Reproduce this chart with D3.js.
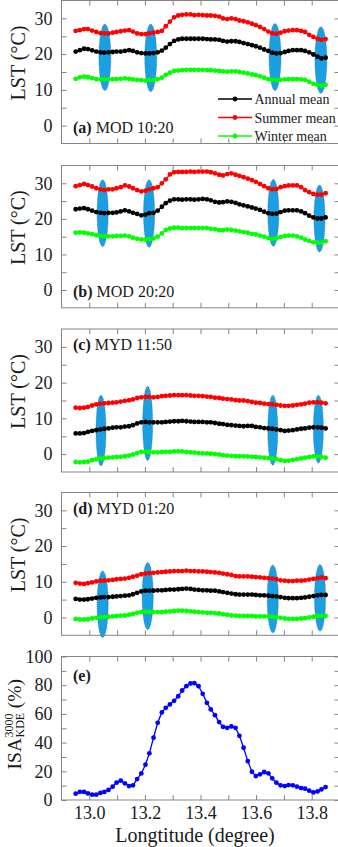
<!DOCTYPE html>
<html>
<head>
<meta charset="utf-8">
<script src="https://cdn.jsdelivr.net/npm/d3@7"></script>
<style>
  body { margin: 0; background: #fff; }
  svg, svg text { font-family: "Liberation Serif", "Times New Roman", serif; }
  svg { display: block; }
</style>
</head>
<body>
<div id="chart"></div>
<script>
// Longitude of each sample point (degree).
const lon = [
  12.951, 12.966, 12.981, 12.995, 13.010, 13.025, 13.040, 13.054, 13.069, 13.084,
  13.098, 13.113, 13.128, 13.143, 13.157, 13.172, 13.187, 13.202, 13.216, 13.231,
  13.246, 13.261, 13.275, 13.290, 13.305, 13.320, 13.334, 13.349, 13.364, 13.378,
  13.393, 13.408, 13.423, 13.437, 13.452, 13.467, 13.481, 13.496, 13.511, 13.526,
  13.540, 13.555, 13.570, 13.585, 13.599, 13.614, 13.629, 13.644, 13.658, 13.673,
  13.688, 13.703, 13.717, 13.732, 13.747, 13.762, 13.776, 13.791, 13.806, 13.821,
  13.835, 13.850
];

// (a) MOD 10:20
const annualA = [
  20.7, 21.1, 21.5, 21.4, 21.05, 20.7, 20.5, 20.4, 20.5, 20.6,
  20.7, 20.7, 20.9, 21.1, 20.9, 20.5, 20.3, 20.2, 20.2, 20.3,
  20.5, 21.0, 21.8, 22.8, 23.7, 24.1, 24.3, 24.3, 24.3, 24.3,
  24.3, 24.3, 24.2, 24.1, 24.1, 24.0, 23.7, 23.5, 23.6, 23.6,
  23.4, 23.1, 22.8, 22.5, 22.2, 21.8, 21.3, 20.9, 20.4, 20.2,
  20.3, 20.6, 20.9, 21.1, 21.1, 21.1, 20.9, 20.5, 19.9, 19.3,
  18.8, 19.0
];
const summerA = [
  26.5, 26.7, 27.0, 27.0, 26.6, 26.2, 25.9, 25.8, 25.8, 26.0,
  26.2, 26.4, 26.6, 26.7, 26.3, 25.8, 25.6, 25.6, 25.8, 26.0,
  26.2, 26.5, 27.8, 29.1, 30.3, 30.8, 31.0, 31.1, 31.1, 30.9,
  31.0, 30.9, 30.8, 30.8, 30.7, 30.5, 30.0, 29.8, 30.0, 29.8,
  29.4, 29.2, 28.9, 28.5, 28.1, 27.6, 27.0, 26.3, 25.8, 25.7,
  26.0, 26.4, 26.6, 26.7, 26.7, 26.5, 26.2, 25.4, 24.8, 24.3,
  24.0, 24.2
];
const winterA = [
  13.1, 13.5, 13.7, 13.6, 13.3, 13.0, 12.95, 12.95, 12.95, 13.0,
  13.0, 13.1, 13.2, 13.1, 12.95, 12.8, 12.7, 12.6, 12.7, 12.8,
  13.0, 13.4, 14.2, 14.8, 15.3, 15.4, 15.5, 15.6, 15.6, 15.6,
  15.6, 15.6, 15.5, 15.5, 15.4, 15.3, 15.2, 15.1, 15.2, 15.2,
  15.0, 14.8, 14.6, 14.3, 14.1, 13.8, 13.4, 13.0, 12.8, 12.7,
  12.8, 12.95, 13.0, 13.0, 13.0, 12.95, 12.8, 12.3, 11.7, 11.4,
  11.2, 11.4
];

// (b) MOD 20:20
const annualB = [
  22.7, 22.9, 23.0, 22.7, 22.3, 21.9, 21.7, 21.6, 21.7, 21.7,
  21.8, 22.1, 22.4, 22.1, 21.7, 21.4, 21.0, 21.2, 21.6, 21.7,
  22.3, 23.4, 24.4, 25.1, 25.5, 25.5, 25.4, 25.5, 25.5, 25.4,
  25.5, 25.6, 25.5, 25.2, 24.8, 24.6, 24.7, 24.9, 24.8, 24.5,
  24.1, 23.8, 23.5, 23.2, 22.9, 22.5, 22.0, 21.6, 21.4, 21.5,
  21.9, 22.3, 22.4, 22.4, 22.4, 22.1, 21.6, 20.9, 20.4, 20.1,
  20.1, 20.4
];
const summerB = [
  29.2, 29.5, 29.8, 29.5, 29.1, 28.6, 28.3, 28.1, 28.3, 28.3,
  28.6, 28.9, 29.4, 29.1, 28.6, 28.1, 27.7, 27.9, 28.3, 28.6,
  28.9, 30.0, 31.1, 32.5, 33.1, 33.2, 33.2, 33.2, 33.3, 33.2,
  33.3, 33.3, 33.3, 33.1, 32.8, 32.4, 32.2, 32.6, 32.8, 32.4,
  32.1, 31.7, 31.3, 30.9, 30.4, 29.8, 29.2, 28.6, 28.3, 28.4,
  28.9, 29.2, 29.4, 29.4, 29.4, 28.9, 28.1, 27.5, 27.0, 26.8,
  26.8, 27.2
];
const winterB = [
  16.1, 16.2, 16.1, 15.9, 15.7, 15.4, 15.2, 15.1, 15.1, 15.1,
  15.2, 15.2, 15.3, 15.1, 14.7, 14.4, 14.2, 14.2, 14.3, 14.5,
  15.0, 15.9, 16.9, 17.3, 17.5, 17.5, 17.4, 17.4, 17.4, 17.4,
  17.4, 17.4, 17.4, 17.2, 17.1, 16.8, 16.8, 17.0, 16.9, 16.7,
  16.5, 16.3, 16.1, 15.8, 15.6, 15.3, 15.0, 14.6, 14.4, 14.5,
  14.9, 15.2, 15.3, 15.3, 15.1, 14.7, 14.2, 13.8, 13.4, 13.3,
  13.3, 13.7
];

// (c) MYD 11:50
const annualC = [
  5.8, 5.8, 5.9, 6.2, 6.5, 6.7, 6.9, 7.1, 7.2, 7.4,
  7.5, 7.5, 7.7, 7.8, 8.1, 8.6, 8.9, 9.0, 8.9, 8.9,
  8.9, 8.9, 9.0, 9.1, 9.2, 9.2, 9.3, 9.2, 9.1, 9.0,
  9.0, 9.0, 8.9, 8.9, 8.7, 8.5, 8.4, 8.2, 8.1, 8.0,
  7.9, 7.8, 7.9, 7.9, 7.6, 7.5, 7.3, 7.2, 7.1, 6.9,
  6.7, 6.5, 6.6, 6.7, 6.9, 7.1, 7.2, 7.4, 7.5, 7.5,
  7.4, 7.2
];
const summerC = [
  13.0, 12.9, 13.0, 13.2, 13.6, 13.9, 14.1, 14.2, 14.3, 14.4,
  14.5, 14.7, 14.9, 15.1, 15.3, 15.7, 15.9, 16.0, 16.0, 15.9,
  16.0, 16.2, 16.3, 16.4, 16.5, 16.5, 16.5, 16.5, 16.4, 16.3,
  16.3, 16.2, 16.1, 16.0, 15.8, 15.7, 15.5, 15.4, 15.3, 15.1,
  15.0, 15.0, 14.8, 14.6, 14.4, 14.3, 14.1, 14.0, 13.9, 13.8,
  13.6, 13.5, 13.5, 13.6, 13.8, 13.9, 14.1, 14.4, 14.5, 14.5,
  14.4, 14.2
];
const winterC = [
  -2.2, -2.3, -2.2, -2.1, -1.7, -1.4, -1.2, -1.1, -1.0, -0.9,
  -0.8, -0.75, -0.6, -0.4, -0.1, 0.3, 0.6, 0.65, 0.6, 0.5,
  0.5, 0.6, 0.65, 0.65, 0.75, 0.75, 0.75, 0.6, 0.5, 0.4,
  0.3, 0.2, 0.2, 0.1, 0.0, -0.1, -0.3, -0.4, -0.5, -0.6,
  -0.6, -0.65, -0.65, -0.75, -0.8, -0.9, -1.0, -1.1, -1.2, -1.4,
  -1.7, -1.9, -1.8, -1.6, -1.4, -1.2, -1.0, -0.8, -0.65, -0.65,
  -0.75, -1.0
];

// (d) MYD 01:20
const annualD = [
  5.2, 5.0, 5.0, 5.1, 5.3, 5.5, 5.6, 5.7, 5.7, 5.8,
  5.9, 6.0, 6.1, 6.2, 6.5, 6.9, 7.3, 7.5, 7.5, 7.5,
  7.6, 7.6, 7.7, 7.8, 7.8, 7.9, 8.0, 8.1, 8.0, 7.8,
  7.7, 7.6, 7.6, 7.5, 7.5, 7.3, 7.1, 6.9, 6.7, 6.5,
  6.4, 6.4, 6.4, 6.4, 6.3, 6.2, 6.2, 6.1, 6.0, 5.9,
  5.7, 5.5, 5.4, 5.4, 5.4, 5.5, 5.6, 5.8, 6.0, 6.2,
  6.3, 6.3
];
const summerD = [
  9.7, 9.5, 9.4, 9.6, 9.8, 10.1, 10.3, 10.3, 10.4, 10.5,
  10.7, 10.8, 10.9, 11.1, 11.4, 11.7, 12.1, 12.3, 12.4, 12.5,
  12.6, 12.7, 12.8, 12.9, 13.0, 13.0, 13.0, 13.1, 13.0, 13.0,
  12.9, 12.9, 12.8, 12.7, 12.6, 12.5, 12.3, 12.1, 11.9, 11.6,
  11.5, 11.5, 11.5, 11.4, 11.3, 11.2, 11.1, 11.0, 10.9, 10.7,
  10.4, 10.3, 10.2, 10.2, 10.3, 10.3, 10.4, 10.6, 10.8, 11.0,
  11.2, 11.0
];
const winterD = [
  -0.4, -0.55, -0.55, -0.5, -0.3, -0.1, 0.0, 0.1, 0.2, 0.3,
  0.4, 0.5, 0.55, 0.75, 1.0, 1.3, 1.5, 1.6, 1.5, 1.5,
  1.5, 1.5, 1.6, 1.7, 1.8, 1.9, 1.9, 1.8, 1.7, 1.6,
  1.5, 1.4, 1.3, 1.3, 1.2, 1.1, 0.9, 0.75, 0.55, 0.5,
  0.4, 0.4, 0.4, 0.4, 0.3, 0.3, 0.3, 0.3, 0.2, 0.1,
  -0.1, -0.3, -0.4, -0.4, -0.4, -0.3, -0.2, 0.0, 0.2, 0.4,
  0.5, 0.4
];

// (e) ISA KDE 3000 (%)
const isa = [
  4.4, 5.6, 5.6, 4.6, 3.7, 3.7, 4.9, 5.6, 7.0, 9.3,
  12.1, 13.5, 11.6, 9.7, 10.2, 14.6, 18.5, 24.6, 32.5, 43.4,
  53.8, 61.0, 64.2, 66.6, 69.1, 72.3, 76.3, 79.3, 81.2, 81.4,
  79.3, 74.0, 67.7, 63.1, 59.1, 54.3, 51.0, 50.3, 51.3, 50.3,
  44.7, 36.4, 27.1, 19.7, 16.7, 17.9, 19.5, 18.6, 15.1, 12.1,
  10.2, 9.7, 10.4, 10.2, 9.3, 8.3, 7.9, 6.5, 5.3, 6.0,
  7.4, 9.0
];

// Highlighted zones: [centre longitude, centre LST, half height in °C]
const zonesA = [[13.056, 19.1, 9.3], [13.221, 18.95, 9.45], [13.668, 19.2, 9.4], [13.833, 18.35, 9.3]];
const zonesB = [[13.048, 21.6, 9.4], [13.215, 21.5, 9.5], [13.662, 21.7, 9.4], [13.828, 20.1, 9.4]];
const zonesC = [[13.042, 6.6, 9.9], [13.210, 8.6, 10.4], [13.660, 6.7, 9.8], [13.824, 7.0, 9.5]];
const zonesD = [[13.048, 3.7, 9.3], [13.210, 6.0, 9.4], [13.660, 5.2, 9.5], [13.830, 5.5, 9.3]];

const seriesNames = ['Annual mean', 'Summer mean', 'Winter mean'];
const seriesColors = ['#000000', '#ff0000', '#00ff00'];
const lstTickLabels = [0, 10, 20, 30];
const isaTickLabels = [0, 20, 40, 60, 80, 100];
const lonTickLabels = [13.0, 13.2, 13.4, 13.6, 13.8];

// Layout of the five stacked panels (pixel positions).
const width = 338, height = 847;
const x0 = 61.5, x1 = 339.5;
const panels = [
  {tag: '(a)', title: ' MOD 10:20', top: 0.5, bottom: 143.5, series: [annualA, summerA, winterA], zones: zonesA, rx: 0.0215, labelY: 'bottom'},
  {tag: '(b)', title: ' MOD 20:20', top: 165.5, bottom: 307.8, series: [annualB, summerB, winterB], zones: zonesB, rx: 0.02, labelY: 'bottom'},
  {tag: '(c)', title: ' MYD 11:50', top: 329, bottom: 472, series: [annualC, summerC, winterC], zones: zonesC, rx: 0.018, labelY: 'top'},
  {tag: '(d)', title: ' MYD 01:20', top: 492.5, bottom: 635.3, series: [annualD, summerD, winterD], zones: zonesD, rx: 0.02, labelY: 'top'},
  {tag: '(e)', title: '', top: 656.5, bottom: 800, isa: true}
];

const svg = d3.select('#chart')
  .append('svg')
    .attr('width', width)
    .attr('height', height)
    .attr('viewBox', `0 0 ${width} ${height}`);

const x = d3.scaleLinear().domain([12.9, 13.9]).range([x0, x1]);
const lonMinor = d3.range(13.0, 13.85, 0.1);
const frameColor = '#858585';
const textColor = '#1a1a1a';

function styleAxis(g, fontSize) {
  g.select('.domain').remove();
  g.attr('color', frameColor)
    .attr('font-family', null)
    .attr('font-size', fontSize);
  g.selectAll('text').attr('fill', textColor);
}

panels.forEach((p, pi) => {
  const y = p.isa
    ? d3.scaleLinear().domain([0, 100]).range([p.bottom, p.top])
    : d3.scaleLinear().domain([-5, 35]).range([p.bottom, p.top]);
  const yMinor = p.isa ? d3.range(0, 101, 10) : d3.range(0, 35, 5);
  const yLabels = p.isa ? isaTickLabels : lstTickLabels;

  const g = svg.append('g');

  // Shaded zones behind the curves.
  if (p.zones) {
    g.selectAll('ellipse')
      .data(p.zones)
      .enter()
      .append('ellipse')
        .attr('cx', d => x(d[0]))
        .attr('cy', d => y(d[1]))
        .attr('rx', x(12.9 + p.rx) - x(12.9))
        .attr('ry', d => y(0) - y(d[2]))
        .attr('fill', '#1a9fe3')
        .attr('stroke', '#1c5d8c')
        .attr('stroke-width', 0.6)
        .attr('stroke-dasharray', '1,1');
  }

  // Curves with markers.
  const seriesList = p.isa
    ? [{values: isa, color: '#0000ff'}]
    : p.series.map((s, i) => ({values: s, color: seriesColors[i]}));
  const line = d3.line().x(d => x(d[0])).y(d => y(d[1]));
  seriesList.forEach(s => {
    const pts = lon.map((l, i) => [l, s.values[i]]);
    g.append('path')
      .attr('d', line(pts))
      .attr('fill', 'none')
      .attr('stroke', s.color)
      .attr('stroke-width', 1.3);
    g.append('g').selectAll('circle')
      .data(pts)
      .enter()
      .append('circle')
        .attr('cx', d => x(d[0]))
        .attr('cy', d => y(d[1]))
        .attr('r', 2.4)
        .attr('fill', s.color);
  });

  // Axes: ticks point inward on all four sides.
  const left = g.append('g')
    .attr('transform', `translate(${x0},0)`)
    .call(d3.axisLeft(y).tickValues(yMinor).tickSize(-5).tickPadding(9)
      .tickFormat(d => yLabels.includes(d) ? d : ''));
  styleAxis(left, 18);
  const right = g.append('g')
    .attr('transform', `translate(${x1},0)`)
    .call(d3.axisRight(y).tickValues(yMinor).tickSize(-5).tickFormat(''));
  styleAxis(right, 18);
  const topAxis = g.append('g')
    .attr('transform', `translate(0,${p.top})`)
    .call(d3.axisTop(x).tickValues(lonMinor).tickSize(-5).tickFormat(''));
  styleAxis(topAxis, 18);
  const bottomAxis = g.append('g')
    .attr('transform', `translate(0,${p.bottom})`)
    .call(d3.axisBottom(x).tickValues(lonMinor).tickSize(-5).tickPadding(6)
      .tickFormat(d => p.isa && lonTickLabels.some(v => Math.abs(v - d) < 1e-6) ? d3.format('.1f')(d) : ''));
  styleAxis(bottomAxis, 18);

  // Frame.
  g.append('rect')
    .attr('x', x0)
    .attr('y', p.top)
    .attr('width', x1 - x0)
    .attr('height', p.bottom - p.top)
    .attr('fill', 'none')
    .attr('stroke', frameColor)
    .attr('stroke-width', 1);

  // Panel tag.
  const tagY = p.isa ? p.top + 24 : (p.labelY === 'top' ? p.top + 21 : p.bottom - 11);
  const tag = g.append('text')
    .attr('x', 73)
    .attr('y', tagY)
    .attr('font-size', 16)
    .attr('fill', textColor);
  tag.append('tspan').attr('font-weight', 'bold').text(p.tag);
  tag.append('tspan').text(p.title);

  // Y axis title.
  const midY = (p.top + p.bottom) / 2;
  if (!p.isa) {
    g.append('text')
      .attr('transform', `translate(25,${midY - 9}) rotate(-90)`)
      .attr('text-anchor', 'middle')
      .attr('font-size', 20)
      .attr('fill', textColor)
      .text('LST (°C)');
  } else {
    const t = g.append('g').attr('transform', `translate(21,${midY - 4}) rotate(-90)`);
    const main = t.append('text').attr('font-size', 19.5).attr('fill', textColor).text('ISA');
    const sub = t.append('text').attr('font-size', 12).attr('fill', textColor).text('KDE');
    const sup = t.append('text').attr('font-size', 12).attr('fill', textColor).text('3000');
    const tail = t.append('text').attr('font-size', 19.5).attr('fill', textColor).text('(%)');
    const w1 = main.node().getComputedTextLength();
    const w2 = Math.max(sub.node().getComputedTextLength(), sup.node().getComputedTextLength());
    const w3 = tail.node().getComputedTextLength();
    const gap = 5;
    const start = -(w1 + w2 + gap + w3) / 2;
    main.attr('x', start);
    sub.attr('x', start + w1 + 0.5).attr('y', 3);
    sup.attr('x', start + w1 + 0.5).attr('y', -8);
    tail.attr('x', start + w1 + w2 + gap);
  }

  // Legend in panel (a).
  if (pi === 0) {
    const rows = [99, 117.5, 136];
    seriesNames.forEach((name, i) => {
      const lg = g.append('g').attr('transform', `translate(0,${rows[i]})`);
      lg.append('line')
        .attr('x1', 218).attr('x2', 252)
        .attr('stroke', seriesColors[i]).attr('stroke-width', 1.3);
      lg.append('circle').attr('cx', 235).attr('r', 2.4).attr('fill', seriesColors[i]);
      lg.append('text')
        .attr('x', 254.5)
        .attr('y', 5)
        .attr('font-size', 14)
        .attr('fill', textColor)
        .text(name);
    });
  }
});

// X axis title.
svg.append('text')
  .attr('x', 195)
  .attr('y', 842)
  .attr('text-anchor', 'middle')
  .attr('font-size', 20)
  .attr('fill', textColor)
  .text('Longtitude (degree)');
</script>
</body>
</html>
